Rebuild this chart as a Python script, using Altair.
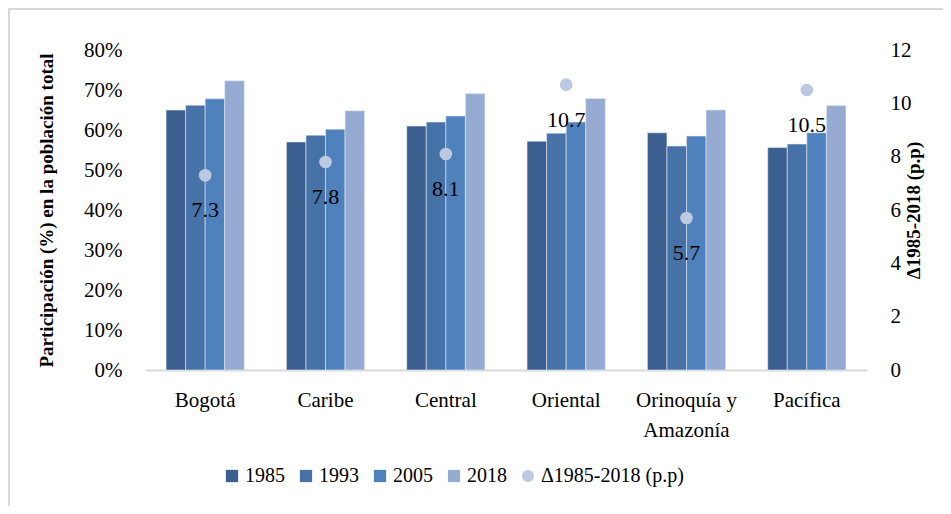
import altair as alt
import pandas as pd

regiones = ["Bogotá", "Caribe", "Central", "Oriental", "Orinoquía y Amazonía", "Pacífica"]
anios = ["1985", "1993", "2005", "2018"]
v1985 = [65.0, 57.0, 61.0, 57.2, 59.3, 55.6]
v1993 = [66.2, 58.7, 62.0, 59.2, 56.0, 56.5]
v2005 = [67.8, 60.2, 63.5, 62.0, 58.5, 59.3]
v2018 = [72.3, 64.8, 69.1, 67.9, 65.0, 66.1]
delta = [7.3, 7.8, 8.1, 10.7, 5.7, 10.5]
delta_name = "Δ1985-2018 (p.p)"

series = [v1985, v1993, v2005, v2018]
rows = []
for a, vals in zip(anios, series):
    for r, v in zip(regiones, vals):
        rows.append({"region": r, "serie": a, "valor": v / 100})
bars_df = pd.DataFrame(rows)
pts_df = pd.DataFrame({"region": regiones, "delta": delta, "serie": [delta_name] * len(regiones)})

FONT = "Liberation Serif"
FS = 21
legend_domain = anios + [delta_name]
colors = ["#3B5F8E", "#4672A7", "#4F81BD", "#95ABD2", "#BDC9E1"]
shapes = ["square", "square", "square", "square", "circle"]

legend = alt.Legend(title=None, orient="none", legendX=77, legendY=416, direction="horizontal",
                    labelFont=FONT, labelFontSize=20, labelColor="#000000", symbolSize=150,
                    columnPadding=11, labelOffset=3, symbolStrokeWidth=0)

x_enc = alt.X("region:N", sort=regiones, title=None,
              scale=alt.Scale(paddingInner=0.35, paddingOuter=0.175),
              axis=alt.Axis(labelAngle=0, labelFont=FONT, labelFontSize=FS, labelColor="#000000",
                            labelPadding=19, ticks=False, domainColor="#D9D9D9", domainWidth=2,
                            labelLineHeight=30,
                            labelExpr="datum.value == 'Orinoquía y Amazonía' ? ['Orinoquía y', 'Amazonía'] : datum.value"))

bars = alt.Chart(bars_df).mark_bar(stroke="#E3E9F2", strokeWidth=0.6).encode(
    x=x_enc,
    xOffset=alt.XOffset("serie:N", sort=anios),
    y=alt.Y("valor:Q", scale=alt.Scale(domain=[0, 0.8]),
            axis=alt.Axis(orient="left", format=".0%", values=[0, 0.1, 0.2, 0.3, 0.4, 0.5, 0.6, 0.7, 0.8],
                          title="Participación (%) en la población total", titleFont=FONT,
                          titleFontSize=19, titleFontWeight="bold", titleColor="#000000", titlePadding=27,
                          labelFont=FONT, labelFontSize=FS, labelColor="#000000", labelPadding=23,
                          ticks=False, domain=False, grid=False)),
    color=alt.Color("serie:N", scale=alt.Scale(domain=legend_domain, range=colors), legend=legend),
)

points = alt.Chart(pts_df).mark_point(filled=True, opacity=1, size=160).encode(
    x=x_enc,
    y=alt.Y("delta:Q", scale=alt.Scale(domain=[0, 12]),
            axis=alt.Axis(orient="right", values=[0, 2, 4, 6, 8, 10, 12], title=delta_name,
                          titleFont=FONT, titleFontSize=19, titleFontWeight="bold", titleColor="#000000",
                          titleAngle=270, titlePadding=12,
                          labelFont=FONT, labelFontSize=FS, labelColor="#000000", labelPadding=23,
                          ticks=False, domain=False, grid=False)),
    color=alt.Color("serie:N", scale=alt.Scale(domain=legend_domain, range=colors), legend=legend),
    shape=alt.Shape("serie:N", scale=alt.Scale(domain=legend_domain, range=shapes), legend=legend),
)

labels = alt.Chart(pts_df).mark_text(font=FONT, fontSize=22, color="#000000", dy=35).encode(
    x=x_enc,
    y=alt.Y("delta:Q", scale=alt.Scale(domain=[0, 12]), axis=None),
    text=alt.Text("delta:Q", format=".1f"),
)

box_df = pd.DataFrame({"k": [0]})
top_border = alt.Chart(box_df).mark_rule(color="#D9D9D9", strokeWidth=2).encode(
    x=alt.value(-137), x2=alt.value(800), y=alt.value(-41))
left_border = alt.Chart(box_df).mark_rule(color="#D9D9D9", strokeWidth=2).encode(
    x=alt.value(-136), y=alt.value(-42), y2=alt.value(460))

chart = alt.layer(bars, points, labels, top_border, left_border).resolve_scale(
    y="independent"
).properties(
    width=722, height=320,
    padding={"left": 137, "top": 42, "right": 76, "bottom": 136},
    autosize=alt.AutoSizeParams(type="none"),
    background="white",
).configure_view(stroke=None)

chart.save("out.html", embed_options={"renderer": "svg", "actions": False})
